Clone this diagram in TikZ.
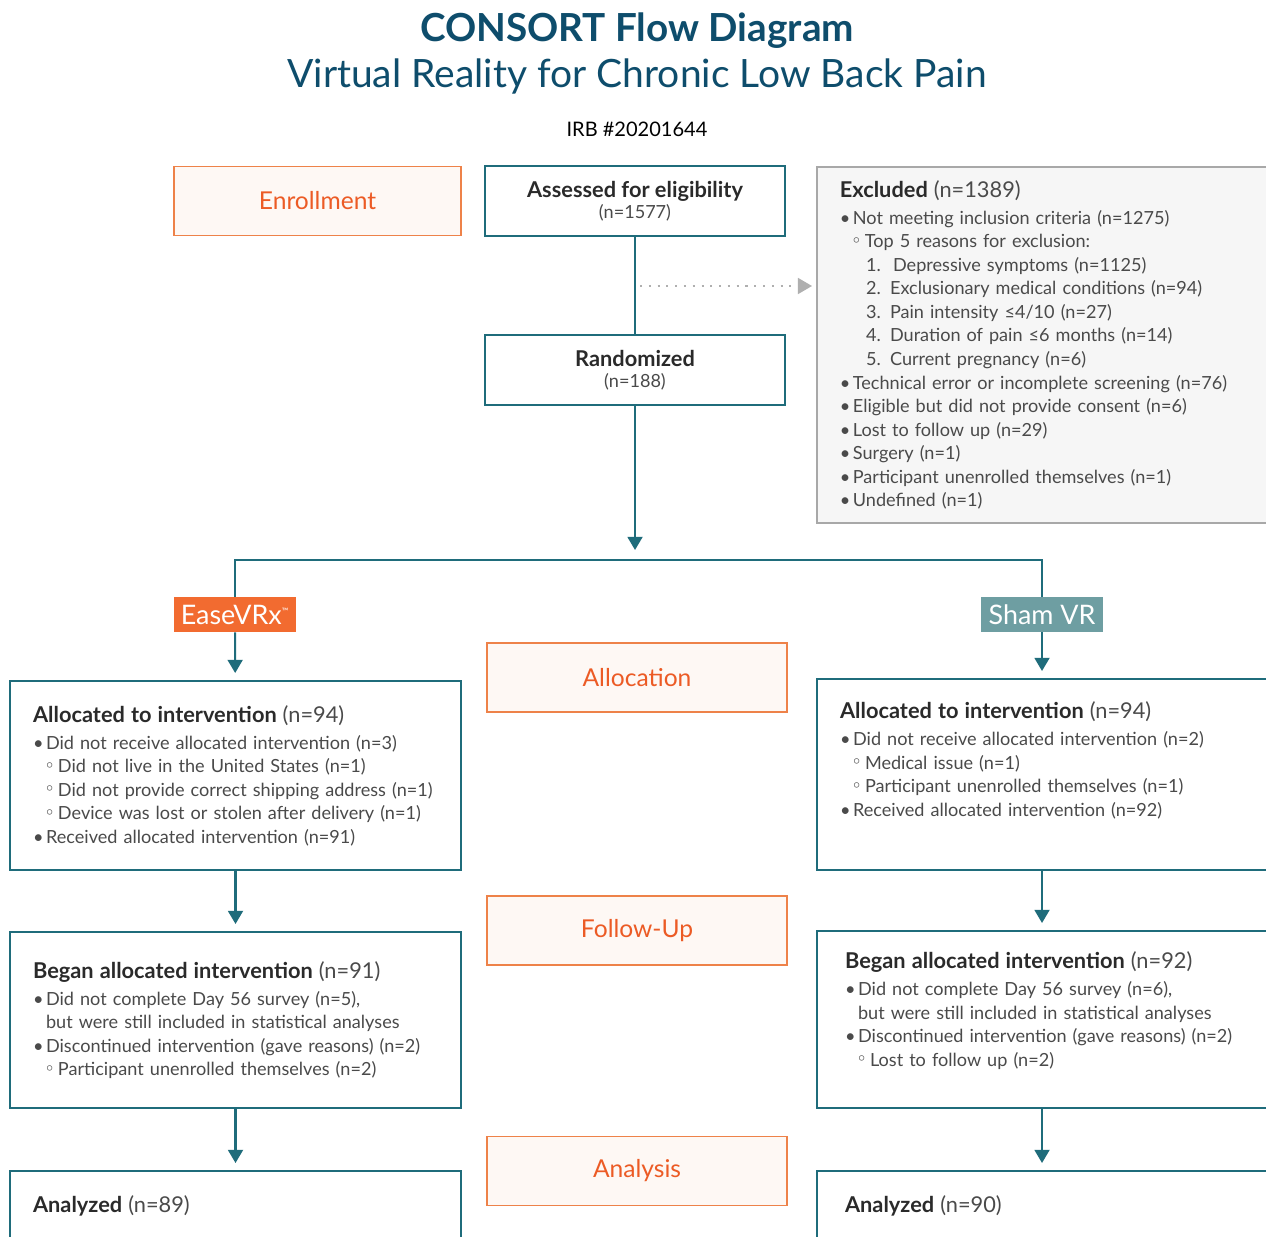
\documentclass[tikz,border=0pt]{standalone}
\usepackage{fontspec}
\setmainfont{Lato}
\usetikzlibrary{positioning,arrows.meta}
\definecolor{titleblue}{HTML}{0E4D6C}
\definecolor{flowteal}{HTML}{1F6C7B}
\definecolor{stageline}{HTML}{EE8249}
\definecolor{stagefill}{HTML}{FEF8F4}
\definecolor{stagetext}{HTML}{EC5B25}
\definecolor{easeorange}{HTML}{F26B30}
\definecolor{shamteal}{HTML}{6E9EA2}
\definecolor{exclline}{HTML}{A8A8A8}
\definecolor{exclfill}{HTML}{F6F6F6}
\definecolor{dotgray}{HTML}{AFAFAF}
\definecolor{textdark}{HTML}{2A2A2A}
\definecolor{textbody}{HTML}{4A4A4A}
\newcommand{\stagewidth}{6 cm}
\newcommand{\sidewidth}{9.02 cm}
\newcommand{\farwidth}{9.42 cm}
\newcommand{\bodyfont}{\fontsize{10.3}{13.4}\selectfont}
\newcommand{\headfont}{\fontsize{12.4}{14}\selectfont}
\newcommand{\boxhead}[2]{{\headfont\color{textdark}\textbf{#1} {\color{textbody}#2}}}
\newcommand{\subring}{\raisebox{0.5ex}{\scriptsize$\circ$}}
\newcommand{\lvA}{\makebox[7.4pt][l]{\textbullet}}
\newcommand{\lvB}{\hspace*{7.4pt}\makebox[6.8pt][l]{\subring}}
\newcommand{\lvC}{\hspace*{15pt}}
\tikzset{
    node style stage/.style={draw=stageline,fill=stagefill,text=stagetext,line width=1pt,
        minimum width=\stagewidth,minimum height=1.38cm,font=\fontsize{14}{16}\selectfont},
    node style flow/.style={draw=flowteal,fill=white,line width=1.2pt,align=center,
        minimum width=\stagewidth,minimum height=1.4cm,text=textdark},
    node style side/.style={draw=flowteal,fill=white,line width=1.2pt,anchor=north west,
        minimum width=\sidewidth,text width=8.1cm,inner xsep=0.46cm,align=left,
        text=textbody,font=\bodyfont},
    node style far/.style={node style side,minimum width=\farwidth,text width=8.5cm},
    node style arm/.style={text=white,minimum width=2.44cm,minimum height=0.7cm,inner sep=0pt,
        font=\fontsize{15.3}{17}\selectfont},
    line style flow/.style={draw=flowteal,line width=1.2pt},
    arrow style flow/.style={line style flow,-{Triangle[width=8.5pt,length=7.5pt]},shorten >=0.14cm},
    arrow style dot/.style={draw=dotgray,line width=1.2pt,dash pattern=on 1.2pt off 3.8pt,
        -{Triangle[width=9pt,length=8pt]}},
}
\begin{document}
\begin{tikzpicture}[x=0.02cm,y=-0.02cm]
\fill[white] (0,0) rectangle (1266,1236);
\useasboundingbox (0,0) rectangle (1266,1236);
% titles
\node[text=titleblue,font=\fontsize{22}{26}\selectfont\bfseries] (title) at (637,31)
    {CONSORT Flow Diagram};
\node[text=titleblue,font=\fontsize{22.2}{26}\selectfont] (subtitle) at (637,76)
    {Virtual Reality for Chronic Low Back Pain};
\node[text=black,font=\fontsize{11.4}{13}\selectfont] (irb) at (637,129) {IRB \#20201644};

% enrollment
\node[node style stage,minimum width=5.74cm] (enrol) at (317.5,201) {Enrollment};
\node[node style flow] (assess) at (635,201)
    {\headfont\textbf{Assessed for eligibility}\\
     \bodyfont\color{textbody}(n=1577)};
\node[node style flow,below=1.94cm of assess] (rand)
    {\headfont\textbf{Randomized}\\
     \bodyfont\color{textbody}(n=188)};
\node[node style far,draw=exclline,fill=exclfill,line width=1pt,minimum height=7.12cm] (excl) at (816,166)
    {\boxhead{Excluded}{(n=1389)}\\[2pt]
     \lvA Not meeting inclusion criteria (n=1275)\\
     \lvB Top 5 reasons for exclusion:\\
     \lvC 1.\ \ Depressive symptoms (n=1125)\\
     \lvC 2. Exclusionary medical conditions (n=94)\\
     \lvC 3. Pain intensity ≤4/10 (n=27)\\
     \lvC 4. Duration of pain ≤6 months (n=14)\\
     \lvC 5. Current pregnancy (n=6)\\
     \lvA Technical error or incomplete screening (n=76)\\
     \lvA Eligible but did not provide consent (n=6)\\
     \lvA Lost to follow up (n=29)\\
     \lvA Surgery (n=1)\\
     \lvA Participant unenrolled themselves (n=1)\\
     \lvA Undefined (n=1)};
\coordinate (split) at (635,286);
\coordinate (fork) at (635,560);
\draw[line style flow] (assess) -- (rand);
\draw[arrow style dot,shorten <=0.1cm,shorten >=0.08cm] (split) -- (excl.west |- split);
\draw[arrow style flow,shorten >=0.2cm] (rand) -- (fork);

% arms
\node[node style arm,fill=easeorange] (ease) at (235,614.5) {EaseVRx\textsuperscript{\tiny\texttrademark}};
\node[node style arm,fill=shamteal] (sham) at (1042,614.5) {Sham VR};
\draw[line style flow] (ease) |- (fork) -| (sham);

% stages
\node[node style stage] (alloc) at (637,677.5) {Allocation};
\node[node style stage] (follow) at (637,930.5) {Follow-Up};
\node[node style stage] (analysis) at (637,1171) {Analysis};

% left arm
\node[node style side,minimum height=3.78cm] (allocL) at (9,680)
    {\boxhead{Allocated to intervention}{(n=94)}\\[2pt]
     \lvA Did not receive allocated intervention (n=3)\\
     \lvB Did not live in the United States (n=1)\\
     \lvB Did not provide correct shipping address (n=1)\\
     \lvB Device was lost or stolen after delivery (n=1)\\
     \lvA Received allocated intervention (n=91)};
\node[node style side,minimum height=3.52cm] (beganL) at (9,931)
    {\boxhead{Began allocated intervention}{(n=91)}\\[2pt]
     \lvA Did not complete Day 56 survey (n=5),\\
     \hspace*{7.4pt}but were still included in statistical analyses\\
     \lvA Discontinued intervention (gave reasons) (n=2)\\
     \lvB Participant unenrolled themselves (n=2)};
\node[node style side,minimum height=1.4cm] (analL) at (9,1170)
    {\boxhead{Analyzed}{(n=89)}};
\draw[arrow style flow] (ease) -- (allocL);
\draw[arrow style flow] (allocL) -- (beganL);
\draw[arrow style flow] (beganL) -- (analL);

% right arm
\node[node style far,minimum height=3.82cm] (allocR) at (816,678)
    {\boxhead{Allocated to intervention}{(n=94)}\\[2pt]
     \lvA Did not receive allocated intervention (n=2)\\
     \lvB Medical issue (n=1)\\
     \lvB Participant unenrolled themselves (n=1)\\
     \lvA Received allocated intervention (n=92)\par\kern16pt};
\node[node style far,minimum height=3.54cm,inner xsep=0.56cm] (beganR) at (816,930)
    {\boxhead{Began allocated intervention}{(n=92)}\\[2pt]
     \lvA Did not complete Day 56 survey (n=6),\\
     \hspace*{7.4pt}but were still included in statistical analyses\\
     \lvA Discontinued intervention (gave reasons) (n=2)\\
     \lvB Lost to follow up (n=2)\par\kern10pt};
\node[node style far,minimum height=1.4cm,inner xsep=0.56cm] (analR) at (816,1170)
    {\boxhead{Analyzed}{(n=90)}};
\draw[arrow style flow] (sham) -- (sham.south |- allocR.north);
\draw[arrow style flow] (allocR.south -| sham.south) -- (beganR.north -| sham.south);
\draw[arrow style flow] (beganR.south -| sham.south) -- (analR.north -| sham.south);
\end{tikzpicture}
\end{document}
